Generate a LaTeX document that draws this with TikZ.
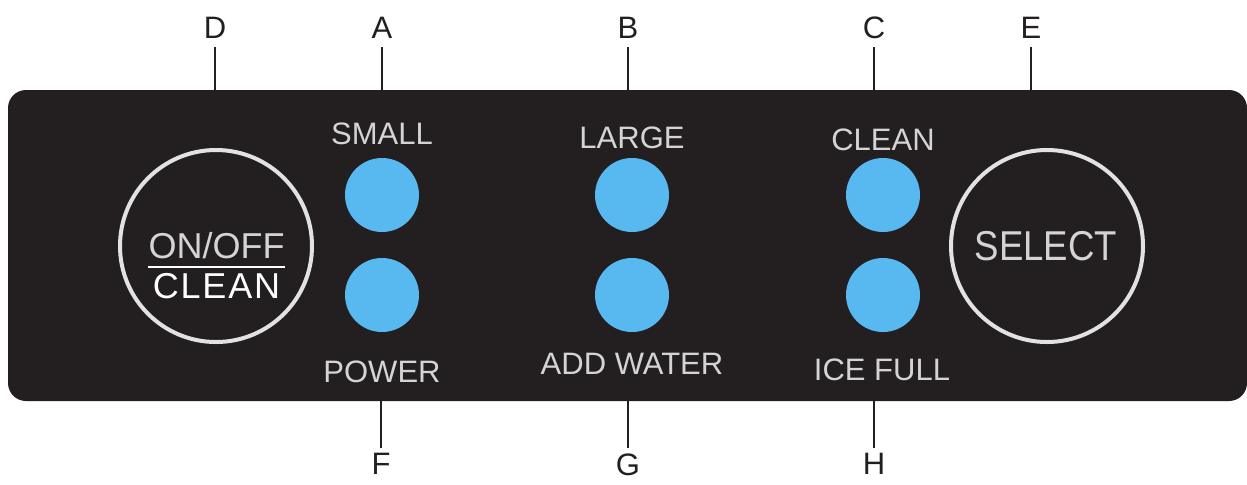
\documentclass[tikz,border=0pt]{standalone}
\usepackage{fontspec}
\setmainfont{Liberation Sans}
\usepackage{graphicx}
\definecolor{panelbk}{RGB}{35,31,32}
\definecolor{ledblue}{RGB}{88,184,240}
\definecolor{printgray}{RGB}{212,212,212}
\definecolor{ringgray}{RGB}{226,226,226}
\definecolor{inkdark}{RGB}{35,31,32}
\tikzset{
  letter/.style={inner sep=4pt, text depth=0pt, text=inkdark, font=\fontsize{15.5}{16}\selectfont},
  lowletter/.style={letter, inner sep=2.5pt},
  leader/.style={draw=inkdark, line width=0.7pt},
  panel/.style={fill=panelbk, rounded corners=9pt},
  led/.style={fill=ledblue},
  ring/.style={draw=ringgray, line width=2pt},
  caption/.style={anchor=base, inner sep=0pt, text=printgray, font=\fontsize{15.5}{16}\selectfont},
}
\begin{document}
\begin{tikzpicture}[x=0.5pt,y=-0.5pt]
\useasboundingbox (0,0) rectangle (1247,484);

% control panel body
\path[panel] (8,90) rectangle (1247,401);

% callout letters with their leader lines
\node[letter, anchor=south] (D) at (215,47) {D};
\node[letter, anchor=south] (A) at (382,47) {A};
\node[letter, anchor=south] (B) at (628,47) {B};
\node[letter, anchor=south] (C) at (874,47) {C};
\node[letter, anchor=south] (E) at (1031,47) {E};
\node[lowletter, anchor=north] (F) at (381,448) {F};
\node[lowletter, anchor=north] (G) at (628,448) {G};
\node[lowletter, anchor=north] (H) at (874,448) {H};
\coordinate (Dend) at (215,97);
\coordinate (Aend) at (382,97);
\coordinate (Bend) at (628,97);
\coordinate (Cend) at (874,97);
\coordinate (Eend) at (1031,97);
\coordinate (Fend) at (381,401);
\coordinate (Gend) at (628,401);
\coordinate (Hend) at (874,401);
\draw[leader] (D.south) -- (Dend);
\draw[leader] (A.south) -- (Aend);
\draw[leader] (B.south) -- (Bend);
\draw[leader] (C.south) -- (Cend);
\draw[leader] (E.south) -- (Eend);
\draw[leader] (F.north) -- (Fend);
\draw[leader] (G.north) -- (Gend);
\draw[leader] (H.north) -- (Hend);

% round push buttons
\draw[ring] (216,246) circle[radius=96];
\draw[ring] (1047,246) circle[radius=96];
\node[anchor=base, inner sep=0pt, text=printgray, font=\fontsize{18}{19}\selectfont] (onoff) at (216.5,258) {ON/OFF};
\node[anchor=base, inner sep=0pt, text=white, font=\fontsize{18}{19}\selectfont] (clean) at (216.5,298) {C\kern0.9pt L\kern0.9pt E\kern0.9pt A\kern0.9pt N};
\draw[white, line width=0.9pt] (148,267) -- (285,267);
\node[anchor=base, inner sep=0pt, text=printgray, font=\fontsize{18.3}{19}\selectfont] (select) at (1046,260) {\scalebox{1}[1.14]{SELECT}};

% indicator lamps
\fill[led] (382,195) circle[radius=37];
\fill[led] (382,295) circle[radius=37];
\fill[led] (632,195) circle[radius=37];
\fill[led] (632,295) circle[radius=37];
\fill[led] (883,195) circle[radius=37];
\fill[led] (883,295) circle[radius=37];

% lamp captions
\node[caption] (small) at (382,144) {SMALL};
\node[caption] (large) at (632,148) {LARGE};
\node[caption] (cleanlamp) at (883,150) {CLEAN};
\node[caption] (power) at (382,382) {POWER};
\node[caption] (water) at (632,374) {ADD WATER};
\node[caption] (icefull) at (882,380) {ICE FULL};
\end{tikzpicture}
\end{document}
